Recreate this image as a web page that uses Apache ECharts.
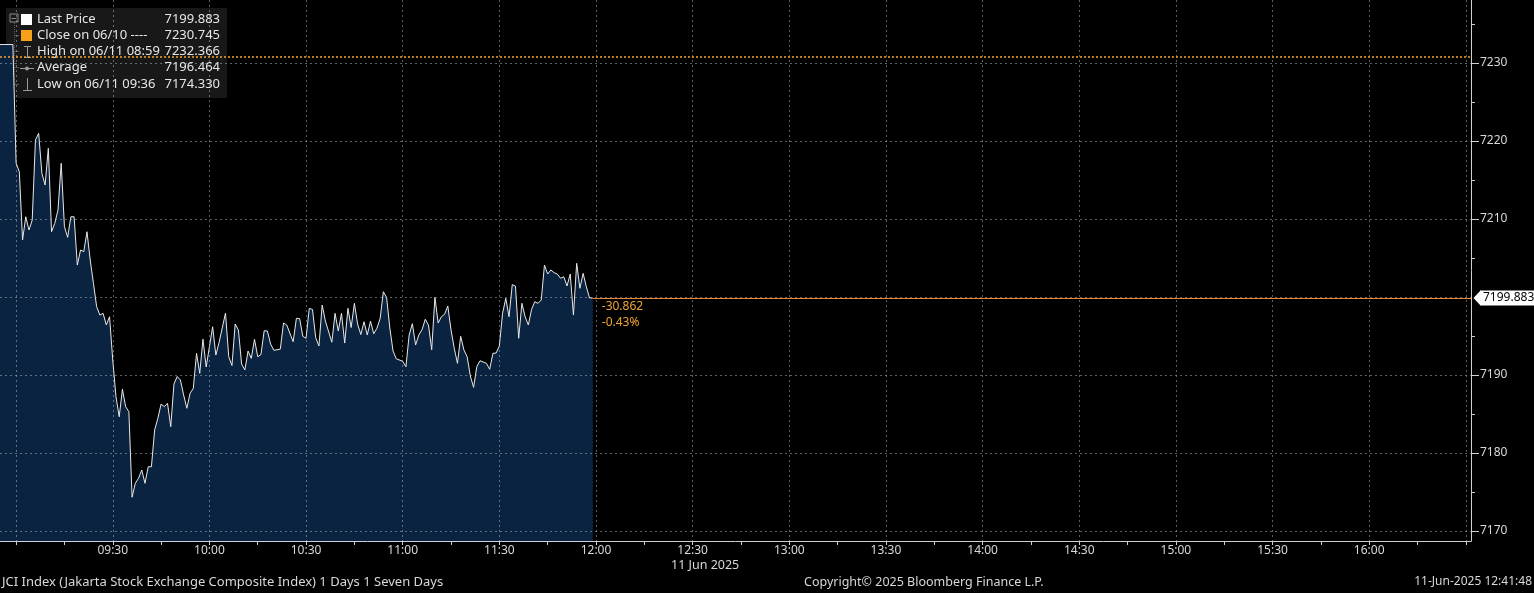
<!DOCTYPE html>
<html>
<head>
<meta charset="utf-8">
<script src="https://cdn.jsdelivr.net/npm/echarts@6/dist/echarts.min.js"></script>
<style>
html,body{margin:0;padding:0;background:#000;}
#chart{width:1534px;height:593px;}
</style>
</head>
<body>
<div id="chart"></div>
<script>
// ---------- DATA ----------
const times = [
'08:55','08:59','09:00','09:01','09:02','09:03','09:04','09:05','09:06','09:07','09:08','09:09',
'09:10','09:11','09:12','09:13','09:14','09:15','09:16','09:17','09:18','09:19','09:20','09:21',
'09:22','09:23','09:24','09:25','09:26','09:27','09:28','09:29','09:30','09:31','09:32','09:33',
'09:34','09:35','09:36','09:37','09:38','09:39','09:40','09:41','09:42','09:43','09:44','09:45',
'09:46','09:47','09:48','09:49','09:50','09:51','09:52','09:53','09:54','09:55','09:56','09:57',
'09:58','09:59','10:00','10:01','10:02','10:03','10:05','10:06','10:07','10:08','10:09','10:10',
'10:11','10:12','10:13','10:14','10:15','10:16','10:17','10:18','10:19','10:20','10:22','10:23',
'10:24','10:26','10:27','10:28','10:29','10:30','10:31','10:32','10:33','10:34','10:35','10:36',
'10:38','10:39','10:40','10:41','10:42','10:43','10:44','10:45','10:46','10:47','10:48','10:49',
'10:50','10:51','10:52','10:53','10:54','10:55','10:56','10:57','10:58','11:00','11:01','11:02',
'11:03','11:04','11:05','11:06','11:07','11:08','11:09','11:10','11:11','11:12','11:13','11:14',
'11:15','11:16','11:17','11:18','11:19','11:20','11:21','11:22','11:23','11:24','11:26','11:27',
'11:28','11:29','11:30','11:31','11:32','11:33','11:34','11:35','11:36','11:37','11:38','11:39',
'11:40','11:41','11:42','11:43','11:44','11:45','11:46','11:47','11:48','11:49','11:50','11:51',
'11:52','11:53','11:54','11:55','11:56','11:57','11:58','11:59'
];
const prices = [
7232.37,7232.37,7217.18,7216.06,7207.31,7210.29,7208.59,7209.87,7220.13,7220.99,7215.86,7214.36,
7219.06,7208.37,7209.45,7211.15,7217.14,7209.01,7207.65,7210.29,7210.29,7204.10,7206.03,7205.81,
7208.37,7204.74,7201.76,7198.76,7197.69,7197.91,7196.41,7197.47,7191.92,7187.22,7184.65,7188.17,
7185.94,7185.29,7174.33,7176.12,7176.76,7177.82,7176.12,7178.24,7178.24,7182.95,7184.45,7186.28,
7185.94,7186.37,7183.37,7188.85,7189.81,7189.36,7187.44,7185.73,7187.65,7188.29,7192.78,7190.22,
7194.59,7191.03,7193.63,7196.19,7192.56,7194.17,7197.95,7192.35,7191.22,7196.54,7195.77,7191.41,
7190.64,7193.08,7192.14,7194.58,7192.35,7192.63,7195.68,7195.64,7193.97,7193.17,7193.31,7196.67,
7196.41,7194.27,7197.27,7197.24,7194.96,7194.71,7198.55,7198.40,7194.77,7193.72,7198.97,7196.92,
7194.21,7197.91,7195.64,7197.91,7194.10,7198.55,7196.09,7199.19,7196.54,7195.19,7196.83,7195.13,
7196.90,7195.29,7195.99,7197.27,7200.68,7199.94,7196.03,7193.08,7192.08,7191.76,7191.06,7195.13,
7196.58,7193.85,7195.13,7195.81,7197.14,7196.41,7193.24,7199.96,7196.67,7197.47,7197.79,7198.85,
7195.77,7193.42,7191.50,7194.96,7193.21,7192.35,7189.87,7188.42,7191.06,7191.83,7191.50,7190.73,
7192.78,7192.82,7193.72,7197.91,7199.83,7197.47,7201.58,7201.41,7194.71,7199.19,7197.47,7196.41,
7198.42,7199.40,7199.19,7199.62,7204.10,7202.95,7203.46,7203.12,7202.95,7202.40,7202.60,7201.41,
7202.95,7197.69,7204.32,7201.12,7203.04,7201.32,7199.87,7199.883
];
const prevClose = 7230.745;
const yTickValues = [7170, 7180, 7190, 7200, 7210, 7220, 7230];
const yLabelValues = [7170, 7180, 7190, 7210, 7220, 7230];
const yMinorValues = [7175, 7185, 7195, 7205, 7215, 7225, 7235];
const xLabelTimes = ['09:30','10:00','10:30','11:00','11:30','12:00','12:30','13:00','13:30','14:00','14:30','15:00','15:30','16:00'];
const xTickTimes = ['09:00','09:15','09:30','09:45','10:00','10:15','10:30','10:45','11:00','11:15','11:30','11:45',
  '12:00','12:15','12:30','12:45','13:00','13:15','13:30','13:45','14:00','14:15','14:30','14:45','15:00','15:15',
  '15:30','15:45','16:00','16:15','16:30'];
const xGridTimes = ['09:00','09:30','10:00','10:30','11:00','11:30','12:00','12:30','13:00','13:30','14:00','14:30',
  '15:00','15:30','16:00','16:30'];
const legendLabels = ['Last Price', 'Close on 06/10 ----', 'High on 06/11 08:59', 'Average', 'Low on 06/11 09:36'];
const legendValues = ['7199.883', '7230.745', '7232.366', '7196.464', '7174.330'];
const xRange = ['08:55', '16:31.6'];
const yRange = [7168.72, 7238.08];

// ---------- HELPERS ----------
function toMin(s) { const p = s.split(':'); return +p[0] * 60 + parseFloat(p[1]); }
function fmt(v) { const h = Math.floor(v / 60), m = Math.round(v - h * 60); return (h < 10 ? '0' : '') + h + ':' + (m < 10 ? '0' : '') + m; }

const seriesData = times.map((t, i) => [toMin(t), prices[i]]);
const last = seriesData[seriesData.length - 1];
const xMin = toMin(xRange[0]), xMax = toMin(xRange[1]);
const change = last[1] - prevClose;
const pct = change / prevClose * 100;

const FONT = 'Noto Sans';
const TXT = '#d8d8d8';
const ORANGE = '#f2a431';
const GRIDC = 'rgba(190,190,190,0.5)';

const chart = echarts.init(document.getElementById('chart'), null, { renderer: 'canvas' });

// legend graphic
const legendRowY = [19, 35, 51, 67, 84];
const lg = [];
lg.push({ type: 'rect', shape: { x: 6, y: 8, width: 221, height: 90 }, style: { fill: 'rgba(26,26,26,0.93)' } });
lg.push({ type: 'rect', shape: { x: 10, y: 14, width: 8, height: 8 }, style: { fill: 'none', stroke: '#8a8a8a', lineWidth: 1 } });
lg.push({ type: 'line', shape: { x1: 11.5, y1: 18.5, x2: 16.5, y2: 18.5 }, style: { stroke: '#8a8a8a', lineWidth: 1 } });
lg.push({ type: 'line', shape: { x1: 14.5, y1: 23, x2: 14.5, y2: 85 }, style: { stroke: '#555', lineWidth: 1, lineDash: [1, 1] } });
for (let i = 1; i < 5; i++) lg.push({ type: 'line', shape: { x1: 14.5, y1: legendRowY[i] + 0.5, x2: 19, y2: legendRowY[i] + 0.5 }, style: { stroke: '#555', lineWidth: 1 } });
lg.push({ type: 'rect', shape: { x: 21, y: 14, width: 11, height: 11 }, style: { fill: '#ffffff' } });
lg.push({ type: 'rect', shape: { x: 21, y: 30, width: 11, height: 11 }, style: { fill: '#f7a11a' } });
// high icon
lg.push({ type: 'line', shape: { x1: 27.5, y1: 46, x2: 27.5, y2: 58 }, style: { stroke: '#9a9a9a', lineWidth: 1 } });
lg.push({ type: 'line', shape: { x1: 24, y1: 46.5, x2: 31, y2: 46.5 }, style: { stroke: '#9a9a9a', lineWidth: 1 } });
lg.push({ type: 'line', shape: { x1: 24, y1: 57.5, x2: 31, y2: 57.5 }, style: { stroke: '#9a9a9a', lineWidth: 1 } });
// average icon
lg.push({ type: 'line', shape: { x1: 20, y1: 68.5, x2: 34, y2: 68.5 }, style: { stroke: '#9a9a9a', lineWidth: 1 } });
lg.push({ type: 'circle', shape: { cx: 27, cy: 68.5, r: 2 }, style: { fill: '#9a9a9a' } });
// low icon
lg.push({ type: 'line', shape: { x1: 27.5, y1: 78, x2: 27.5, y2: 90 }, style: { stroke: '#9a9a9a', lineWidth: 1 } });
lg.push({ type: 'line', shape: { x1: 23, y1: 90.5, x2: 32, y2: 90.5 }, style: { stroke: '#9a9a9a', lineWidth: 1 } });
legendLabels.forEach((s, i) => {
  lg.push({ type: 'text', x: 37, y: legendRowY[i], style: { text: s, fill: '#e6e6e6', font: '13px "' + FONT + '"', textVerticalAlign: 'middle' } });
  lg.push({ type: 'text', x: 220, y: legendRowY[i], style: { text: legendValues[i], fill: '#e6e6e6', font: '13px "' + FONT + '"', textAlign: 'right', textVerticalAlign: 'middle' } });
});

const footer = [
  { type: 'text', left: 2, top: 576, style: { text: 'JCI Index (Jakarta Stock Exchange Composite Index) 1 Days 1 Seven Days', fill: TXT, font: '13px "' + FONT + '"' } },
  { type: 'text', left: 804, top: 576, style: { text: 'Copyright\u00a9 2025 Bloomberg Finance L.P.', fill: TXT, font: '12.5px "' + FONT + '"' } },
  { type: 'text', right: 2, top: 576, style: { text: '11-Jun-2025 12:41:48', fill: TXT, font: '12px "' + FONT + '"' } },
  { type: 'text', left: 671, top: 559, style: { text: '11 Jun 2025', fill: TXT, font: '12.5px "' + FONT + '"' } }
];

const option = {
  backgroundColor: '#000000',
  animation: false,
  grid: { left: 0, top: 0, right: 63, bottom: 52, containLabel: false },
  xAxis: [
    {
      type: 'value', min: xMin, max: xMax, position: 'bottom', z: 6,
      axisLine: { show: true, lineStyle: { color: '#d0d0d0', width: 1 } },
      axisTick: { show: true, customValues: xTickTimes.map(toMin), length: 4, lineStyle: { color: '#d0d0d0' } },
      axisLabel: { show: true, customValues: xLabelTimes.map(toMin), formatter: fmt, color: TXT, fontSize: 12, fontFamily: FONT, margin: 4 },
      splitLine: { show: false }
    },
    {
      type: 'value', min: xMin, max: xMax, position: 'bottom', z: 5,
      axisLine: { show: false }, axisLabel: { show: false },
      axisTick: { show: false, customValues: xGridTimes.map(toMin) },
      splitLine: { show: true, lineStyle: { color: GRIDC, type: [2, 3], width: 1 } }
    }
  ],
  yAxis: [
    {
      type: 'value', min: yRange[0], max: yRange[1], position: 'right', z: 6,
      axisLine: { show: true, lineStyle: { color: '#d0d0d0', width: 1 } },
      axisTick: { show: true, customValues: yLabelValues, length: 8, inside: false, lineStyle: { color: '#d0d0d0', width: 1 } },
      axisLabel: { show: true, customValues: yLabelValues, formatter: v => String(Math.round(v)), color: TXT, fontSize: 12, fontFamily: FONT, margin: 9 },
      splitLine: { show: false }
    },
    {
      type: 'value', min: yRange[0], max: yRange[1], position: 'right', z: 5,
      axisLine: { show: false }, axisLabel: { show: false },
      axisTick: { show: false, customValues: yTickValues },
      splitLine: { show: true, lineStyle: { color: GRIDC, type: [2, 3], width: 1 } }
    },
    {
      type: 'value', min: yRange[0], max: yRange[1], position: 'right', z: 6,
      axisLine: { show: false }, axisLabel: { show: false },
      axisTick: { show: true, customValues: yMinorValues, length: 4, lineStyle: { color: '#d0d0d0' } },
      splitLine: { show: false }
    }
  ],
  series: [{
    type: 'line', xAxisIndex: 0, yAxisIndex: 0,
    data: seriesData, showSymbol: false, symbol: 'none', smooth: false,
    lineStyle: { color: '#e8e8e8', width: 1 },
    areaStyle: { color: '#0a2341', opacity: 1, origin: 'start' },
    z: 2,
    markLine: {
      silent: true, symbol: 'none', animation: false, precision: 3,
      data: [
        { yAxis: prevClose, lineStyle: { color: ORANGE, type: [2, 2], width: 1.5 }, label: { show: false } },
        [
          { coord: [last[0], last[1]], lineStyle: { color: '#e8873a', type: 'solid', width: 1 } },
          { coord: [xMax, last[1]], label: { show: true, position: 'end', formatter: last[1].toFixed(3), color: '#000', backgroundColor: '#ffffff', padding: [2, 3, 1, 3], fontSize: 12, fontFamily: FONT, distance: 9 } }
        ]
      ],
      label: { show: false }
    },
    markPoint: {
      silent: true, animation: false,
      data: [
        { coord: [xMax, last[1]], symbol: 'path://M6,0 L0,5 L6,10 Z', symbolSize: [7, 15], symbolOffset: [6, 0], itemStyle: { color: '#ffffff' }, label: { show: false } },
        { coord: [last[0], last[1]], symbol: 'circle', symbolSize: 0, itemStyle: { color: 'transparent' },
          label: { show: true, position: [9, 1], formatter: change.toFixed(3) + '\n' + pct.toFixed(2) + '%', color: ORANGE, fontSize: 12, fontFamily: FONT, lineHeight: 16, align: 'left', verticalAlign: 'top' } }
      ]
    }
  }],
  graphic: lg.concat(footer)
};
chart.setOption(option);
</script>
</body>
</html>
